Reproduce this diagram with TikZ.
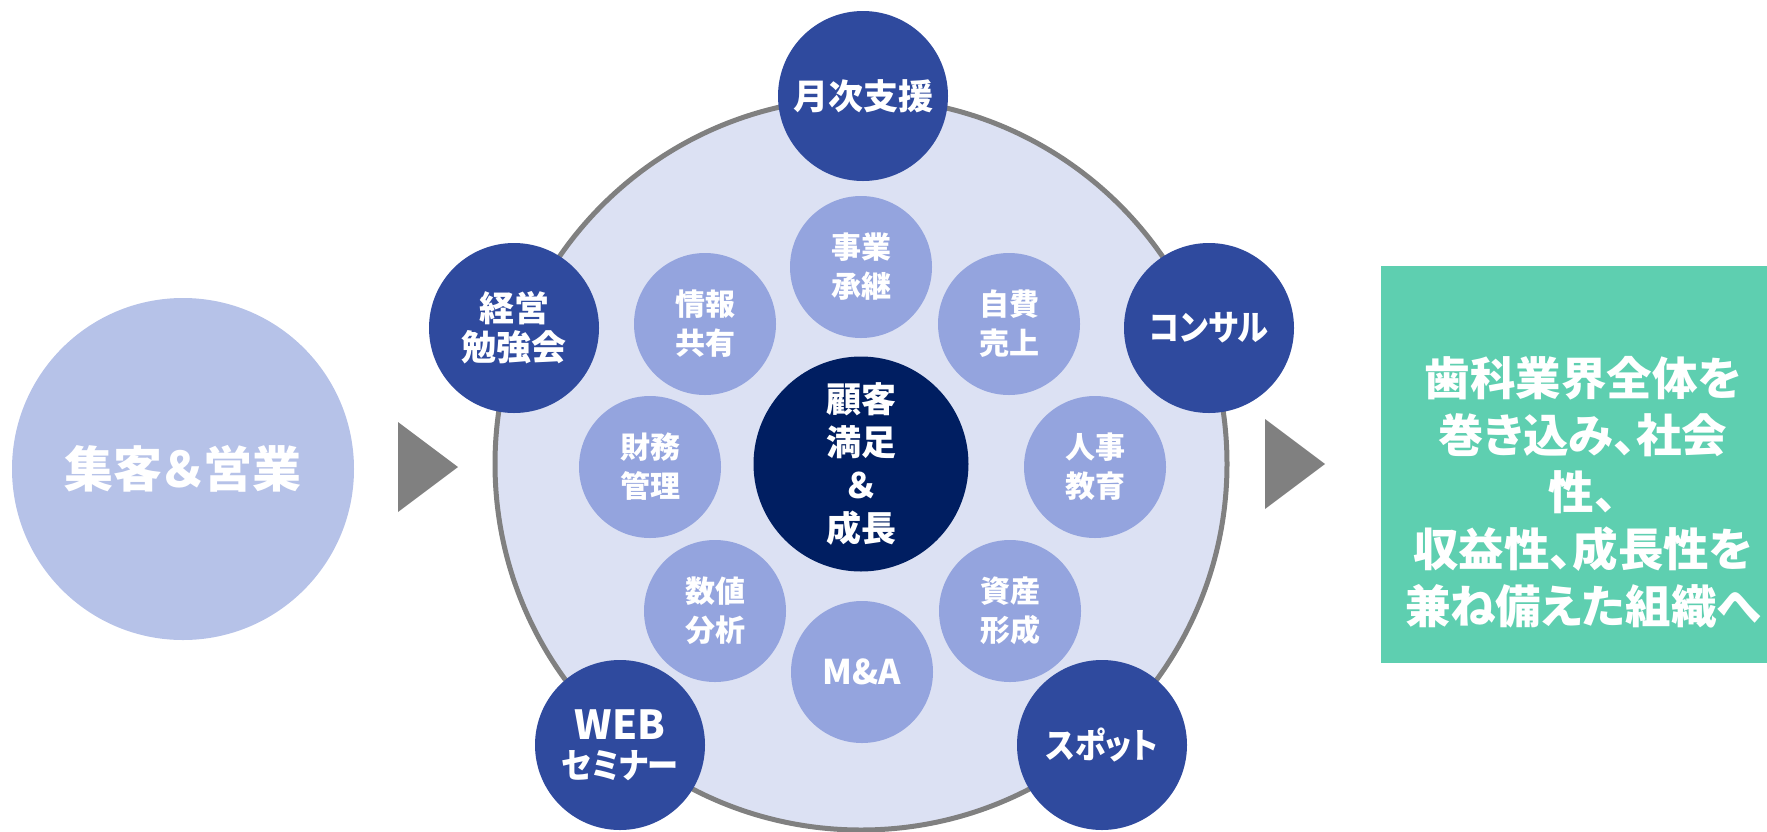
\documentclass[tikz,border=0pt]{standalone}
\usepackage{fontspec}
\setmainfont{Noto Sans CJK JP}[RawFeature=+palt]
\newfontfamily\narrowjp{Noto Sans CJK JP}[RawFeature=+palt, FakeStretch=0.89]
\definecolor{ringfill}{HTML}{DCE1F3}
\definecolor{ringline}{HTML}{808080}
\definecolor{innerc}{HTML}{94A4DE}
\definecolor{outerc}{HTML}{2F4A9E}
\definecolor{corec}{HTML}{001E61}
\definecolor{leftc}{HTML}{B6C2E8}
\definecolor{greenc}{HTML}{5ECFB0}
\definecolor{arrowc}{HTML}{808080}
\tikzset{
  outerball/.style={circle, fill=outerc, minimum size=170pt, inner sep=0pt, text=white, align=center,
    font=\bfseries\fontsize{35}{39}\selectfont},
  innerball/.style={circle, fill=innerc, minimum size=142pt, inner sep=0pt, text=white, align=center,
    font=\bfseries\fontsize{30}{39}\selectfont},
  coreball/.style={circle, fill=corec, minimum size=215pt, inner sep=0pt, text=white, align=center,
    font=\bfseries\fontsize{35}{43}\selectfont},
  leftball/.style={circle, fill=leftc, minimum size=342pt, inner sep=0pt, text=white, align=center,
    font=\bfseries\fontsize{49}{52}\selectfont},
  flowarrow/.style={fill=arrowc, draw=none},
  goalbox/.style={fill=greenc, draw=none},
  goaltext/.style={text=white, align=center, inner sep=0pt, font=\bfseries\fontsize{45.5}{57}\selectfont},
}
\begin{document}
\begin{tikzpicture}[x=1pt, y=-1pt]
\useasboundingbox (0,0) rectangle (1767,831);
% left circle
\node[leftball] (lead) at (183,469) {集客＆営業};
% arrows
\path[flowarrow] (398,422) -- (458,467) -- (398,512) -- cycle;
\path[flowarrow] (1265,419) -- (1325,464) -- (1265,509) -- cycle;
% big ring
\node[circle, fill=ringfill, draw=ringline, line width=5pt, minimum size=732pt, inner sep=0pt] (ring) at (861,464) {};
% outer services
\node[outerball] (monthly) at (863,96) {月次支援};
\node[outerball] (study) at (514,328) {経営\\勉強会};
\node[outerball] (consult) at (1209,328) {\narrowjp\bfseries コンサル};
\node[outerball] (web) at (620,745) {{\fontsize{40}{39}\selectfont WEB}\\{\narrowjp\bfseries セミナー}};
\node[outerball] (spot) at (1102,745) {\narrowjp\bfseries スポット};
% inner topics
\node[innerball] (succession) at (861,267) {事業\\承継};
\node[innerball] (info) at (705,324) {情報\\共有};
\node[innerball] (selfpay) at (1009,324) {自費\\売上};
\node[innerball] (finance) at (650,467) {財務\\管理};
\node[innerball] (hr) at (1095,467) {人事\\教育};
\node[innerball] (numbers) at (715,611) {数値\\分析};
\node[innerball] (assets) at (1010,611) {資産\\形成};
\node[innerball, font=\bfseries\fontsize{34}{39}\selectfont] (ma) at (862,672) {M\&A};
% core
\node[coreball] (core) at (861,464) {顧客\\満足\\＆\\成長};
% goal box
\path[goalbox] (1381,266) rectangle (1767,663);
\node[goaltext] (goal) at (1583,492) {歯科業界全体を\\巻き込み、社会\\性、\\収益性、成長性を\\兼ね備えた組織へ};
\end{tikzpicture}
\end{document}
